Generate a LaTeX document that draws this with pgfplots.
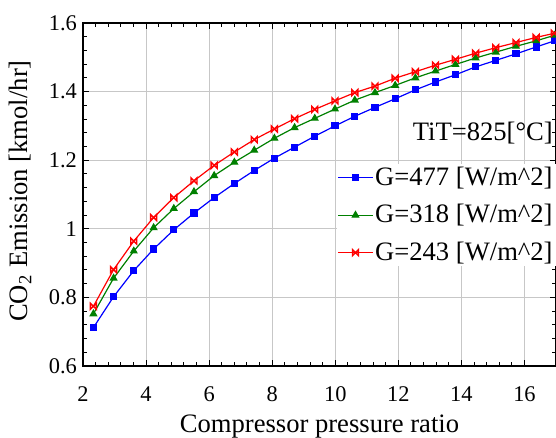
\documentclass[border=0pt]{standalone}
\usepackage{fontspec}
\setmainfont{Liberation Serif}
\usepackage{pgfplots}
\usepackage{pgfplotstable}
\pgfplotsset{compat=1.18}

\pgfdeclareplotmark{bowx}{%
  \pgfpathmoveto{\pgfqpoint{-\pgfplotmarksize}{-\pgfplotmarksize}}%
  \pgfpathlineto{\pgfqpoint{\pgfplotmarksize}{\pgfplotmarksize}}%
  \pgfpathlineto{\pgfqpoint{\pgfplotmarksize}{-\pgfplotmarksize}}%
  \pgfpathlineto{\pgfqpoint{-\pgfplotmarksize}{\pgfplotmarksize}}%
  \pgfpathclose
  \pgfusepathqstroke}

\definecolor{cblue}{RGB}{0,0,255}
\definecolor{cgreen}{RGB}{0,128,0}
\definecolor{cred}{RGB}{255,0,0}

\pgfplotstableread{
x blue green red
2.33 0.712 0.752 0.774
2.97 0.802 0.856 0.881
3.61 0.878 0.935 0.964
4.24 0.941 1.003 1.033
4.88 0.997 1.059 1.091
5.52 1.046 1.108 1.140
6.16 1.091 1.155 1.185
6.80 1.132 1.194 1.224
7.43 1.170 1.229 1.260
8.07 1.206 1.264 1.291
8.71 1.238 1.295 1.321
9.35 1.270 1.322 1.348
9.99 1.300 1.349 1.373
10.62 1.328 1.375 1.397
11.26 1.354 1.397 1.416
11.90 1.379 1.418 1.439
12.54 1.405 1.440 1.458
13.18 1.428 1.460 1.477
13.81 1.449 1.479 1.494
14.45 1.472 1.498 1.512
15.09 1.491 1.515 1.528
15.73 1.510 1.532 1.543
16.37 1.530 1.548 1.558
16.95 1.548 1.564 1.570
}\datatable

\begin{document}
\begin{tikzpicture}
\path[use as bounding box] (-41.5pt,-36pt) rectangle (236.5pt,183pt);
\begin{axis}[
  at={(0,0)}, anchor=south west,
  scale only axis,
  width=236.5pt, height=171.5pt,
  xmin=2, xmax=17, ymin=0.6, ymax=1.6,
  xtick={2,4,...,16},
  ytick={0.6,0.8,1,1.2,1.4,1.6},
  yticklabels={0.6,0.8,1,1.2,1.4,1.6},
  minor x tick num=4, minor y tick num=4,
  tick align=inside,
  major tick length=3pt, minor tick length=1.8pt,
  tick style={black, line width=0.5pt},
  axis line style={line width=1pt},
  grid=major,
  major grid style={line width=0.5pt, color=black!22},
  /pgf/number format/assume math mode=true,
  tick label style={font=\rmfamily\fontsize{11.2}{12}\selectfont},
  xticklabel style={yshift=-9pt, inner sep=1pt},
  yticklabel style={xshift=0.5pt},
  xlabel={Compressor pressure ratio},
  ylabel={CO\textsubscript{2} Emission [kmol/hr]},
  label style={font=\rmfamily\fontsize{13.3}{15}\selectfont},
  xlabel style={at={(axis description cs:0.5,0)}, anchor=center, inner sep=0pt, yshift=-30.5pt},
  ylabel style={at={(axis description cs:-0.133,0.51)}, anchor=center},
  legend style={at={(1,0.59)}, anchor=north east, draw=none, fill=white,
    font=\rmfamily\fontsize{13.3}{15}\selectfont, row sep=6pt, inner sep=0.5pt,
    nodes={inner sep=1pt}},
  legend cell align=right,
]
\addplot[cblue, line width=0.6pt, mark=square*, mark size=1.5pt] table[x=x, y=blue] {\datatable};
\addlegendentry{G=477 [W/m\^{}2]}
\addplot[cgreen, line width=0.6pt, mark=triangle*, mark size=1.8pt] table[x=x, y=green] {\datatable};
\addlegendentry{G=318 [W/m\^{}2]}
\addplot[cred, line width=0.6pt, mark=bowx, mark size=1.5pt, mark options={line width=0.7pt}] table[x=x, y=red] {\datatable};
\addlegendentry{G=243 [W/m\^{}2]}
\node[anchor=east, inner sep=0pt, font=\rmfamily\fontsize{13.3}{15}\selectfont] at (rel axis cs:0.994,0.679) {TiT=825[°C]};
\end{axis}
\end{tikzpicture}
\end{document}
